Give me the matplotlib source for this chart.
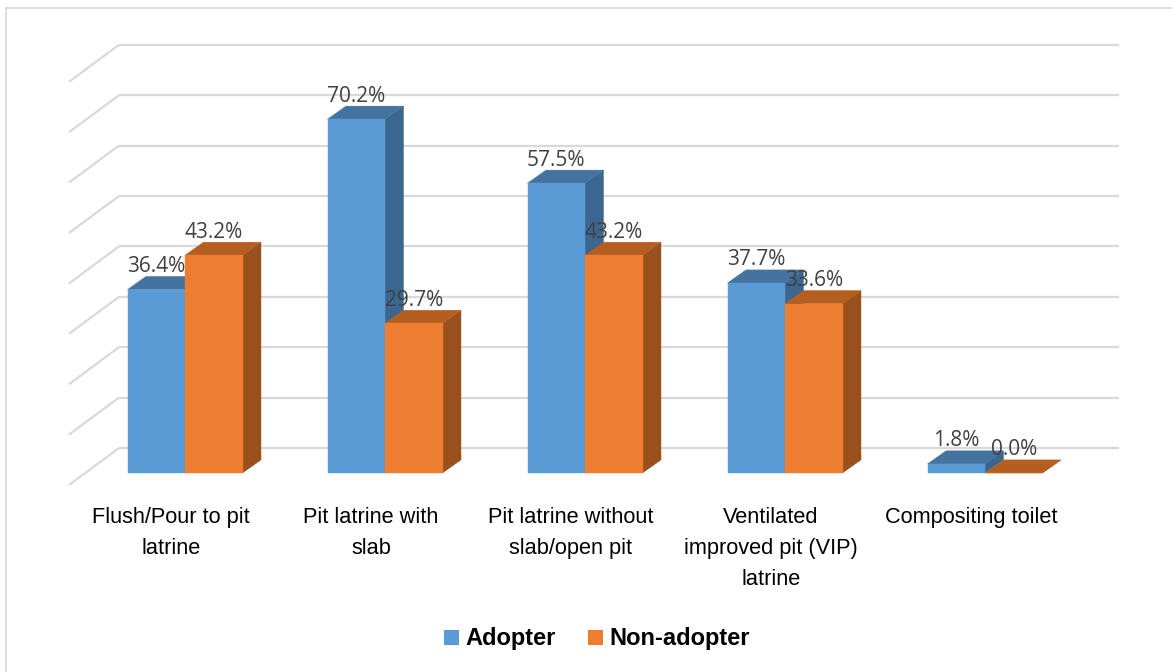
import matplotlib.pyplot as plt
from matplotlib.patches import Polygon, Patch, Rectangle

# data
categories = [
    "Flush/Pour to pit\nlatrine",
    "Pit latrine with\nslab",
    "Pit latrine without\nslab/open pit",
    "Ventilated\nimproved pit (VIP)\nlatrine",
    "Compositing toilet",
]
adopter = [36.4, 70.2, 57.5, 37.7, 1.8]
non_adopter = [43.2, 29.7, 43.2, 33.6, 0.0]
series_names = ["Adopter", "Non-adopter"]
grid_values = [0, 10, 20, 30, 40, 50, 60, 70, 80]

# colours: front, top, side
front_cols = ["#5B9BD5", "#ED7D31"]
top_cols = ["#44739F", "#B55E21"]
side_cols = ["#3B6690", "#9A501D"]
grid_col = "#D9D9D9"

# fake 3d geometry (data units: x = category, y = percent)
BAR_W = 0.2875
BAR_D = (0.0925, 2.6)     # bar depth offset
WALL_OFF = (0.17, 4.96)   # back wall offset from bar front plane
FLOOR_OFF = (-0.08, -2.38)
WALL_X = (-0.5, 4.5)

fig = plt.figure(figsize=(11.72, 6.72), dpi=100)
ax = fig.add_axes([0, 0, 1, 1])
ax.set_xlim(-0.925, 4.935)
ax.set_ylim(-39.48, 93.85)
ax.axis("off")

# outer frame
fig.patches.append(Rectangle((6 / 1172, -0.1), 1.1, 1.1 - 8 / 672, transform=fig.transFigure,
                             fill=False, edgecolor=grid_col, linewidth=1.2))

# back wall gridlines + left diagonals
for g in grid_values:
    xl = WALL_X[0] + WALL_OFF[0]
    xr = WALL_X[1] + WALL_OFF[0]
    yb = g + WALL_OFF[1]
    ax.plot([xl, xr], [yb, yb], color=grid_col, lw=1.6, solid_capstyle="butt", zorder=1)
    ax.plot([xl, WALL_X[0] + FLOOR_OFF[0]], [yb, g + FLOOR_OFF[1]], color=grid_col, lw=1.6,
            solid_capstyle="butt", zorder=1)


def draw_bar(x0, v, s):
    x1 = x0 + BAR_W
    dx, dy = BAR_D
    side = [(x1, 0), (x1 + dx, dy), (x1 + dx, v + dy), (x1, v)]
    top = [(x0, v), (x1, v), (x1 + dx, v + dy), (x0 + dx, v + dy)]
    front = [(x0, 0), (x1, 0), (x1, v), (x0, v)]
    for pts, c in [(side, side_cols[s]), (top, top_cols[s]), (front, front_cols[s])]:
        ax.add_patch(Polygon(pts, closed=True, facecolor=c, edgecolor=c, lw=0.3, zorder=2))


for i, cat in enumerate(categories):
    for s, vals in enumerate([adopter, non_adopter]):
        v = vals[i]
        x0 = i - BAR_W + s * BAR_W
        draw_bar(x0, v, s)
        ax.text(x0 + BAR_W / 2, v + BAR_D[1] + 2.0, f"{v:.1f}%", ha="center", va="center",
                fontsize=15, family="Open Sans", color="#404040", zorder=5)
    ax.text(i - 0.07, -6.8, cat, ha="center", va="top", fontsize=15.7,
            family="Liberation Sans", color="black", linespacing=1.62, zorder=5)

handles = [Patch(facecolor=front_cols[k], label=series_names[k]) for k in range(2)]
fig.legend(handles=handles, loc="center", bbox_to_anchor=(597 / 1172, 33 / 672), ncol=2,
           frameon=False, prop={"family": "Liberation Sans", "weight": "bold", "size": 17},
           handlelength=0.62, handleheight=0.62, handletextpad=0.25, columnspacing=1.4)

fig.savefig("out.png", dpi=100)
